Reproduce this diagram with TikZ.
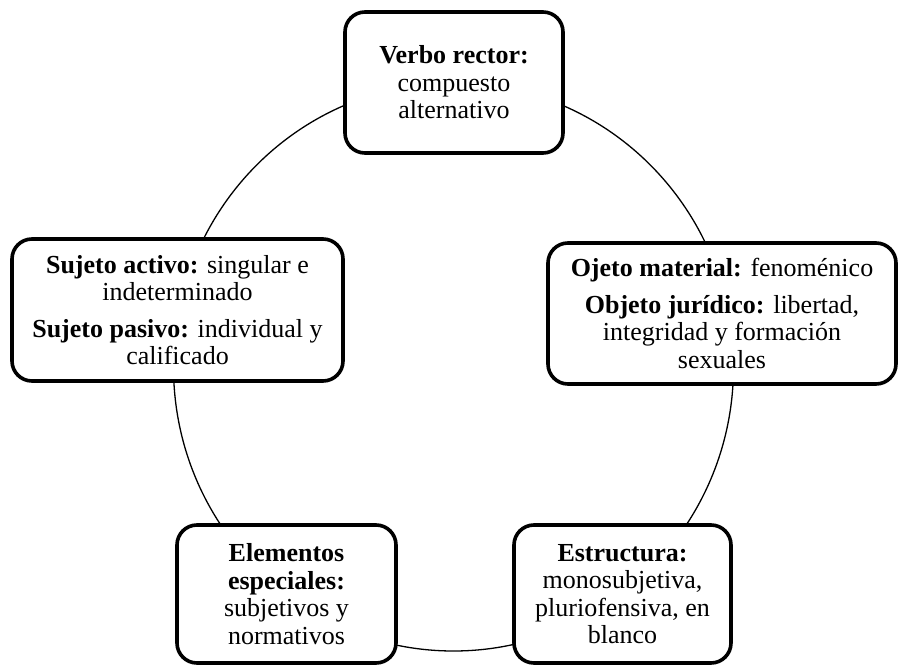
\documentclass[tikz,border=0pt]{standalone}
\usepackage{fontspec}
\setmainfont{Liberation Serif}
\begin{document}
\begin{tikzpicture}[x=1pt,y=-1pt,
  box/.style={draw=black, line width=3.6pt, rounded corners=20pt, fill=white,
    align=center, inner sep=0pt, font=\fontsize{26}{27.5}\selectfont},
  ring/.style={draw=black, line width=1.3pt}]
\useasboundingbox (0,0) rectangle (900,666);
\draw[ring] (453.5,367) ellipse [x radius=280, y radius=284];
\node[box, minimum width=218pt, minimum height=141pt] (verbo) at (454,82.5)
  {\textbf{Verbo rector:}\\compuesto\\alternativo};
\node[box, minimum width=331pt, minimum height=142pt] (sujeto) at (177.5,310)
  {\textbf{Sujeto activo:} singular e\\indeterminado\\[9pt]\textbf{Sujeto pasivo:} individual y\\calificado};
\node[box, minimum width=348pt, minimum height=141pt] (objeto) at (722,313.5)
  {\textbf{Ojeto material:} fenoménico\\[9pt]\textbf{Objeto jurídico:} libertad,\\integridad y formación\\sexuales};
\node[box, minimum width=219pt, minimum height=138pt] (elementos) at (286.5,594)
  {\textbf{Elementos}\\\textbf{especiales:}\\subjetivos y\\normativos};
\node[box, minimum width=217pt, minimum height=138pt] (estructura) at (622.5,594)
  {\textbf{Estructura:}\\monosubjetiva,\\pluriofensiva, en\\blanco};
\end{tikzpicture}
\end{document}
